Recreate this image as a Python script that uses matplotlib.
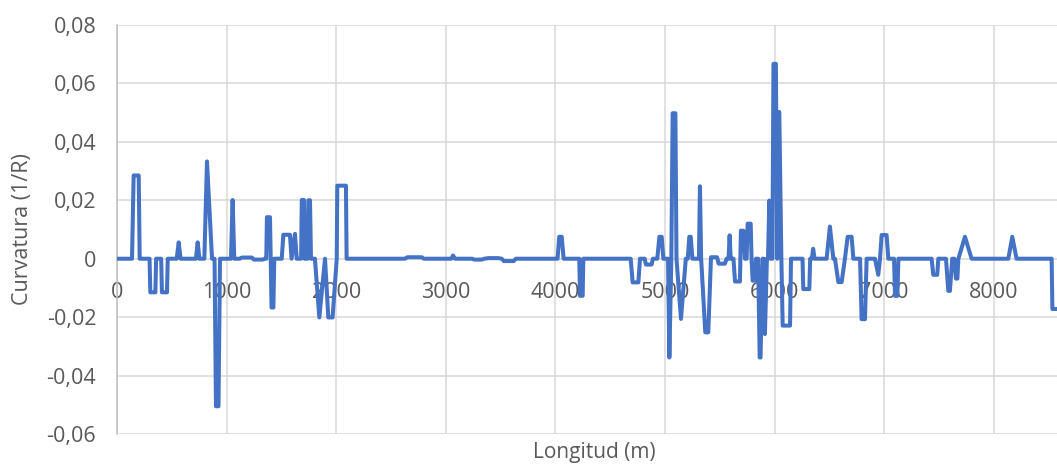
import matplotlib
matplotlib.use("Agg")
import matplotlib.pyplot as plt
from matplotlib.ticker import FuncFormatter

# Curvature profile along the alignment
longitud = [
    0, 137, 152, 198, 207, 297, 304, 350, 357, 403, 410, 456, 463, 545, 563, 580,
    720, 736, 752, 797, 821, 867, 890, 903, 926, 940, 1040, 1055, 1070, 1120, 1140,
    1230, 1250, 1330, 1350, 1362, 1368, 1396, 1402, 1410, 1427, 1435, 1503, 1518,
    1578, 1593, 1624, 1640, 1680, 1686, 1706, 1712, 1740, 1746, 1761, 1770, 1806,
    1846, 1898, 1928, 1967, 2005, 2010, 2089, 2095, 2628, 2650, 2780, 2800, 3050,
    3066, 3085, 3240, 3260, 3330, 3350, 3390, 3480, 3510, 3530, 3620, 3640, 4020,
    4035, 4058, 4075, 4218, 4225, 4249, 4255, 4687, 4705, 4757, 4772, 4815, 4826,
    4878, 4890, 4930, 4949, 4970, 4985, 5028, 5040, 5058, 5070, 5095, 5105, 5146,
    5190, 5208, 5222, 5235, 5250, 5310, 5319, 5330, 5368, 5395, 5420, 5475, 5490,
    5547, 5562, 5580, 5590, 5600, 5625, 5639, 5684, 5693, 5715, 5730, 5745, 5754,
    5782, 5790, 5800, 5822, 5830, 5850, 5864, 5872, 5890, 5900, 5912, 5930, 5940,
    5952, 5965, 5980, 5990, 6012, 6025, 6043, 6062, 6074, 6141, 6150, 6255, 6262,
    6317, 6325, 6340, 6352, 6365, 6475, 6505, 6536, 6551, 6582, 6612, 6642, 6667,
    6703, 6719, 6780, 6794, 6825, 6840, 6916, 6946, 6962, 6977, 7022, 7038, 7090,
    7099, 7120, 7130, 7433, 7448, 7484, 7494, 7564, 7585, 7600, 7621, 7640, 7655,
    7668, 7677, 7737, 7798, 8133, 8169, 8208, 8528, 8535, 8575,
]
curvatura = [
    0, 0, 0.0285, 0.0285, 0, 0, -0.0115, -0.0115, 0, 0, -0.0115, -0.0115, 0, 0, 0.0056, 0,
    0, 0.0056, 0, 0, 0.0333, 0, 0, -0.0505, -0.0505, 0, 0, 0.0201, 0, 0, 0.0004,
    0.0004, -0.0003, -0.0003, 0, 0, 0.0142, 0.0142, 0, -0.0167, -0.0167, 0, 0, 0.0082,
    0.0082, 0, 0.0085, 0, 0, 0.0201, 0.0201, 0, 0, 0.02, 0.02, 0, 0,
    -0.0201, 0, -0.0201, -0.0201, 0, 0.025, 0.025, 0, 0, 0.0005, 0.0005, 0, 0,
    0.0011, 0, 0, -0.0003, -0.0003, 0, 0.0002, 0.0002, 0, -0.0008, -0.0008, 0, 0,
    0.0075, 0.0075, 0, 0, -0.0127, -0.0127, 0, 0, -0.0081, -0.0081, 0, 0, -0.002,
    -0.002, 0, 0, 0.0075, 0.0075, 0, 0, -0.0338, 0, 0.0498, 0.0498, 0, -0.0206,
    0, 0, 0.0075, 0.0075, 0, 0, 0.0248, 0, -0.0252, -0.0252, 0.0005, 0.0005, -0.0017,
    -0.0017, 0, 0, 0.008, 0, 0, -0.0078, -0.0078, 0.0096, 0.0096, 0, 0, 0.012,
    0.012, 0, -0.0075, -0.0075, 0, 0, -0.0338, -0.0338, 0, 0, -0.0258, 0, 0,
    0.0199, 0, 0, 0.0667, 0.0667, 0, 0.0502, 0, -0.0229, -0.0229, 0, 0, -0.0104,
    -0.0104, 0, 0, 0.0034, 0, 0, 0.011, 0, 0, -0.008, -0.008, 0, 0.0075,
    0.0075, 0, 0, -0.0207, -0.0207, 0, 0, -0.0055, 0, 0.0081, 0.0081, 0, 0,
    -0.0127, -0.0127, 0, 0, -0.0055, -0.0055, 0, 0, -0.011, -0.011, 0, 0, -0.0068,
    -0.0068, 0, 0.0075, 0, 0, 0.0075, 0, 0, -0.0172, -0.0172,
]

x_ticks = [0, 1000, 2000, 3000, 4000, 5000, 6000, 7000, 8000]
y_ticks = [-0.06, -0.04, -0.02, 0, 0.02, 0.04, 0.06, 0.08]

text_color = "#595959"
grid_color = "#D9D9D9"
line_color = "#4472C4"

plt.rcParams["font.family"] = ["Open Sans", "DejaVu Sans"]

fig = plt.figure(figsize=(10.57, 4.65), dpi=100)
ax = fig.add_axes([117 / 1057, 31 / 465, 940 / 1057, 409 / 465])

ax.plot(longitud, curvatura, color=line_color, lw=2.9,
        solid_joinstyle="round", solid_capstyle="round", zorder=3)

ax.set_xlim(0, 8577)
ax.set_ylim(-0.06, 0.08)
ax.set_xticks(x_ticks)
ax.set_yticks(y_ticks)


def comma_fmt(v, pos):
    if abs(v) < 1e-9:
        return "0"
    return f"{v:.2f}".replace(".", ",")


ax.yaxis.set_major_formatter(FuncFormatter(comma_fmt))
ax.xaxis.set_major_formatter(FuncFormatter(lambda v, pos: f"{int(round(v))}"))

# Excel-like axes: category labels sit at y = 0
ax.spines["bottom"].set_position(("data", 0))
ax.spines["bottom"].set_visible(False)
ax.spines["top"].set_visible(False)
ax.spines["right"].set_visible(False)
ax.spines["left"].set_color("#BFBFBF")
ax.spines["left"].set_linewidth(1.1)

ax.set_axisbelow(True)
ax.grid(True, color=grid_color, lw=1.1)
ax.tick_params(axis="both", length=0, labelsize=15.5, labelcolor=text_color)
ax.tick_params(axis="y", pad=15)
ax.tick_params(axis="x", pad=17)

ax.set_ylabel("Curvatura (1/R)", fontsize=15.5, color=text_color)
ax.yaxis.set_label_coords(-0.089, 0.5)
fig.text(594 / 1057, 1 - 442 / 465, "Longitud (m)", ha="center", va="top",
         fontsize=15, color=text_color)

fig.savefig("out.png", dpi=100)
